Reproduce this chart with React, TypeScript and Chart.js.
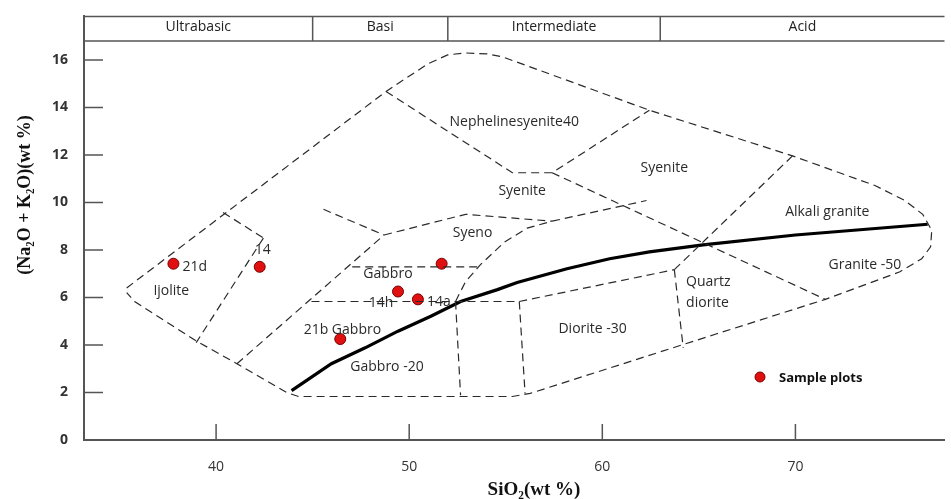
import React, { useEffect, useRef } from "react";
import { Chart, registerables } from "chart.js";
Chart.register(...registerables);

// ---- axis ticks ----
const xTickValues = [40, 50, 60, 70];
const yTickValues = [0, 2, 4, 6, 8, 10, 12, 14, 16];

// ---- silica classes (header band) ----
const classNames = ["Ultrabasic", "Basi", "Intermediate", "Acid"];
const classBreaks = [45, 52, 63];

// ---- outer envelope of the diagram ----
const envelope: [number, number][] = [
  [35.37, 6.4], [48.8, 14.67], [50.96, 15.83], [51.99, 16.21], [52.92, 16.29],
  [54.05, 16.25], [54.82, 16.13], [62.44, 13.88], [69.85, 11.96], [74.12, 10.71],
  [75.67, 10.08], [76.59, 9.5], [77.06, 8.83], [77.0, 8.13], [76.54, 7.63],
  [75.41, 7.08], [71.55, 5.92], [65.89, 4.46], [56.26, 1.96], [55.34, 1.83],
  [44.27, 1.83], [43.65, 2.0], [41.08, 3.21], [38.97, 4.17], [35.78, 5.83],
  [35.37, 6.2],
];

// ---- internal field boundaries ----
const ijoliteTop: [number, number][] = [[40.36, 9.58], [42.45, 8.5]];
const ijoliteRight: [number, number][] = [[42.45, 8.5], [38.97, 4.1]];
const syenoLeftTop: [number, number][] = [[45.56, 9.71], [48.7, 8.63]];
const gabbroLeft: [number, number][] = [[41.08, 3.21], [48.7, 8.63]];
const syeniteBase: [number, number][] = [[48.7, 8.63], [52.92, 9.5], [57.4, 9.21]];
const gabbroTop: [number, number][] = [[47.05, 7.29], [53.69, 7.29]];
const gabbroBase: [number, number][] = [[44.94, 5.83], [55.7, 5.83]];
const dioriteLeft: [number, number][] = [[52.4, 5.83], [52.66, 1.88]];
const dioriteInner: [number, number][] = [[55.7, 5.83], [56.0, 1.96]];
const syenoCurve: [number, number][] = [
  [52.4, 5.83], [52.92, 6.67], [53.69, 7.38], [54.93, 8.33], [56.11, 8.92], [57.4, 9.21],
];
const syenoTop: [number, number][] = [[57.4, 9.21], [62.29, 10.08]];
const dioriteTop: [number, number][] = [[55.7, 5.83], [63.73, 7.17]];
const quartzDioriteLeft: [number, number][] = [[63.73, 7.17], [64.19, 3.88]];
const graniteLeft: [number, number][] = [[63.73, 7.17], [69.85, 11.96]];
const alkaliGraniteBase: [number, number][] = [[57.4, 11.25], [71.55, 5.92]];
const nephelineBase: [number, number][] = [
  [48.8, 14.67], [55.34, 11.25], [57.4, 11.25], [62.44, 13.88],
];

// ---- alkaline / subalkaline divide ----
const alkalineDivide: [number, number][] = [
  [43.91, 2.08], [45.97, 3.21], [47.72, 3.88], [49.42, 4.58], [51.12, 5.21],
  [52.66, 5.83], [54.57, 6.33], [55.59, 6.63], [58.17, 7.21], [60.38, 7.63],
  [62.44, 7.92], [65.22, 8.21], [70.0, 8.63], [76.85, 9.08],
];

// ---- samples ----
const sampleNames = ["21d", "14", "", "14h", "14a", "21b"];
const sampleSiO2 = [37.79, 42.26, 51.68, 49.42, 50.45, 46.43];
const sampleAlkali = [7.42, 7.29, 7.42, 6.25, 5.92, 4.25];

// ---- field names ----
const fieldNames = [
  "Ijolite", "Gabbro", "14h", "21b Gabbro", "Gabbro -20", "Syeno", "Diorite -30",
  "Quartz", "diorite", "Granite -50", "Alkali granite", "Syenite", "Syenite", "Nephelinesyenite40",
];
const fieldX = [37.68, 48.9, 48.54, 46.54, 48.85, 53.28, 59.5, 64.34, 64.34, 73.6, 71.65, 63.21, 55.85, 55.44];
const fieldY = [6.25, 7.0, 5.75, 4.63, 3.08, 8.71, 4.67, 6.67, 5.75, 7.38, 9.58, 11.46, 10.5, 13.38];
const fieldAlign: CanvasTextAlign[] = [
  "center", "center", "center", "center", "center", "center", "center",
  "left", "left", "center", "center", "center", "center", "center",
];

const boundaryLines = [
  ijoliteTop, ijoliteRight, syenoLeftTop, gabbroLeft, syeniteBase, gabbroTop, gabbroBase,
  dioriteLeft, dioriteInner, syenoCurve, syenoTop, dioriteTop, quartzDioriteLeft,
  graniteLeft, alkaliGraniteBase, nephelineBase,
];

const LABEL_FONT = "14px 'Open Sans', sans-serif";

const overlay = {
  id: "overlay",
  afterDraw(chart: any) {
    const { ctx, chartArea, scales } = chart;
    const xs = scales.x;
    const ys = scales.y;
    ctx.save();
    // header band
    ctx.strokeStyle = "#555";
    ctx.lineWidth = 1.5;
    ctx.beginPath();
    ctx.moveTo(chartArea.left, chartArea.top);
    ctx.lineTo(chartArea.right, chartArea.top);
    ctx.moveTo(chartArea.left, 41);
    ctx.lineTo(chartArea.right, 41);
    classBreaks.forEach((b) => {
      const px = xs.getPixelForValue(b);
      ctx.moveTo(px, chartArea.top);
      ctx.lineTo(px, 41);
    });
    ctx.stroke();
    const edges = [xs.min, ...classBreaks, xs.max];
    ctx.fillStyle = "#222";
    ctx.font = "14px 'Open Sans', sans-serif";
    ctx.textAlign = "center";
    ctx.textBaseline = "middle";
    classNames.forEach((n, i) => {
      const a = xs.getPixelForValue(edges[i]);
      const b = xs.getPixelForValue(edges[i + 1]);
      ctx.fillText(n, (a + b) / 2, 27);
    });

    // tick marks (inside)
    ctx.strokeStyle = "#555";
    ctx.lineWidth = 1.5;
    ctx.beginPath();
    yTickValues.forEach((v) => {
      if (v === 0) return;
      const py = ys.getPixelForValue(v);
      ctx.moveTo(chartArea.left, py);
      ctx.lineTo(chartArea.left + 19, py);
    });
    xTickValues.forEach((v) => {
      const px = xs.getPixelForValue(v);
      ctx.moveTo(px, chartArea.bottom);
      ctx.lineTo(px, chartArea.bottom - 16);
    });
    ctx.stroke();

    // field labels
    ctx.fillStyle = "#2a2a2a";
    ctx.font = LABEL_FONT;
    ctx.textBaseline = "middle";
    fieldNames.forEach((t, i) => {
      ctx.textAlign = fieldAlign[i];
      ctx.fillText(t, xs.getPixelForValue(fieldX[i]), ys.getPixelForValue(fieldY[i]));
    });

    // sample names
    sampleNames.forEach((t, i) => {
      if (!t || t === "14h" || t === "21b") return;
      const px = xs.getPixelForValue(sampleSiO2[i]);
      const py = ys.getPixelForValue(sampleAlkali[i]);
      if (t === "14") {
        ctx.textAlign = "center";
        ctx.fillText(t, px + 3, py - 17);
      } else {
        ctx.textAlign = "left";
        ctx.fillText(t, px + 9, py + 3);
      }
    });

    // legend
    ctx.beginPath();
    ctx.arc(760, 377, 5, 0, Math.PI * 2);
    ctx.fillStyle = "#e01010";
    ctx.fill();
    ctx.strokeStyle = "#7a0000";
    ctx.lineWidth = 1;
    ctx.stroke();
    ctx.fillStyle = "#111";
    ctx.font = "bold 13px 'Open Sans', sans-serif";
    ctx.textAlign = "left";
    ctx.fillText("Sample plots", 779, 378);

    // axis titles
    ctx.font = "bold 19px 'Liberation Serif', serif";
    ctx.textAlign = "center";
    ctx.fillText("SiO\u2082(wt %)", 534, 490);
    ctx.translate(25, 195);
    ctx.rotate(-Math.PI / 2);
    ctx.font = "bold 18px 'Liberation Serif', serif";
    ctx.fillText("(Na\u2082O + K\u2082O)(wt %)", 0, 0);
    ctx.restore();
  },
};

export default function App() {
  const ref = useRef<HTMLCanvasElement | null>(null);
  useEffect(() => {
    if (!ref.current) return;
    const toPts = (arr: [number, number][]) => arr.map(([x, y]) => ({ x, y }));
    const dashed = (arr: [number, number][]) => ({
      data: toPts(arr),
      showLine: true,
      borderColor: "#2a2a2a",
      borderWidth: 1.2,
      borderDash: [8, 5],
      pointRadius: 0,
      fill: false,
    });
    const chart = new Chart(ref.current, {
      type: "scatter",
      data: {
        datasets: [
          dashed(envelope),
          ...boundaryLines.map(dashed),
          {
            data: toPts(alkalineDivide),
            showLine: true,
            borderColor: "#000",
            borderWidth: 3.2,
            pointRadius: 0,
            fill: false,
          },
          {
            data: sampleSiO2.map((x, i) => ({ x, y: sampleAlkali[i] })),
            pointRadius: 5.5,
            pointBackgroundColor: "#e01010",
            pointBorderColor: "#7a0000",
            pointBorderWidth: 1,
            showLine: false,
          },
        ] as any,
      },
      options: {
        responsive: false,
        animation: false,
        layout: { padding: { top: 12, left: 0, right: 0, bottom: 0 } },
        plugins: { legend: { display: false }, tooltip: { enabled: false } },
        scales: {
          x: {
            type: "linear",
            min: 33.16,
            max: 77.72,
            afterBuildTicks: (s: any) => {
              s.ticks = xTickValues.map((v) => ({ value: v }));
            },
            afterFit: (s: any) => {
              s.height = 59;
            },
            grid: { display: false },
            border: { display: true, color: "#555", width: 2 },
            ticks: { padding: 11, color: "#333", font: { family: "'Open Sans', sans-serif", size: 14 } },
          },
          y: {
            type: "linear",
            min: 0,
            max: 17.83,
            afterBuildTicks: (s: any) => {
              s.ticks = yTickValues.map((v) => ({ value: v }));
            },
            afterFit: (s: any) => {
              s.width = 84;
            },
            grid: { display: false },
            border: { display: true, color: "#555", width: 2 },
            ticks: { padding: 8, color: "#333", font: { family: "'Open Sans', sans-serif", size: 14, weight: "bold" } },
          },
        },
      } as any,
      plugins: [overlay],
    });
    return () => chart.destroy();
  }, []);
  return (
    <div style={{ position: "fixed", left: 0, top: 0, width: 951, height: 499, background: "#fff" }}>
      <canvas ref={ref} width={951} height={499} style={{ display: "block" }} />
    </div>
  );
}
